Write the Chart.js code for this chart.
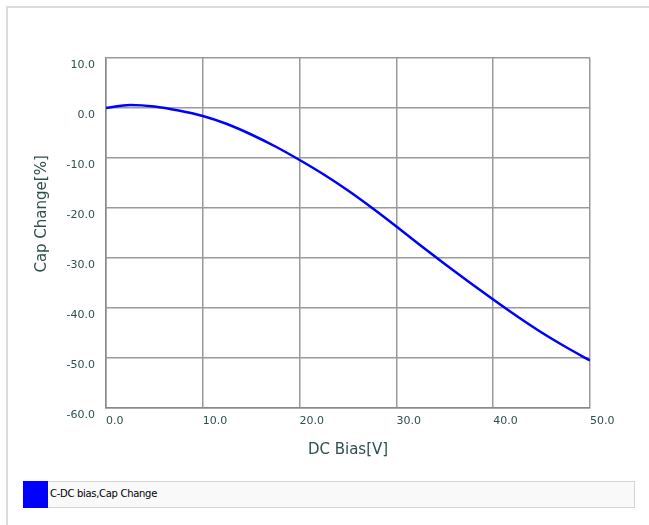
<!DOCTYPE html>
<html>
<head>
<meta charset="utf-8">
<script src="https://cdn.jsdelivr.net/npm/chart.js@4.4.1/dist/chart.umd.min.js"></script>
<style>
  html, body { margin: 0; padding: 0; background: #fff; }
  body { width: 649px; height: 525px; position: relative; overflow: hidden; }
  .frame { position: absolute; left: 6px; top: 6px; right: 0; bottom: 0;
           border-left: 2px solid #dcdcdc; border-top: 2px solid #dcdcdc; }
  #chart { position: absolute; left: 0; top: 0; }
  .legend { position: absolute; left: 23px; top: 481px; width: 611px; height: 25px;
            background: #f9f9f9; border: 1px solid #d4d4d4; border-left: none;
            font: 10px "DejaVu Sans", sans-serif; color: #000; }
  .legend .sw { position: absolute; left: 0; top: -1px; width: 25px; height: 27px; background: #0000ff; }
  .legend .tx { position: absolute; left: 27px; top: 6px; letter-spacing: -0.3px; }
</style>
</head>
<body>
<div class="frame"></div>
<canvas id="chart" width="649" height="470"></canvas>
<div class="legend"><span class="sw"></span><span class="tx" id="legText"></span></div>
<script>
  /* ── Data ────────────────────────────────────────────────── */
  const SERIES_NAME = 'C-DC bias,Cap Change';
  const biasV   = [0, 2.5, 5, 7.5, 10, 12.5, 15, 17.5, 20, 22.5, 25, 27.5, 30, 32.5, 35, 37.5, 40, 42.5, 45, 47.5, 50];
  const capPct  = [0.0, 0.6, 0.3, -0.5, -1.6, -3.2, -5.3, -7.7, -10.4, -13.3, -16.5, -20.0, -23.7, -27.5, -31.2, -34.8, -38.3, -41.7, -44.9, -47.8, -50.5];
  const xTicks  = [0, 10, 20, 30, 40, 50];
  const yTicks  = [10, 0, -10, -20, -30, -40, -50, -60];

  const BLUE = '#0000ff';
  const GRID = '#9a9a9a';
  const TXT  = '#2f4f4f';

  document.getElementById('legText').textContent = SERIES_NAME;

  const points = biasV.map((v, i) => ({ x: v, y: capPct[i] }));

  new Chart(document.getElementById('chart'), {
    type: 'line',
    data: {
      datasets: [{
        label: SERIES_NAME,
        data: points,
        borderColor: BLUE,
        borderWidth: 2.5,
        pointRadius: 0,
        cubicInterpolationMode: 'monotone',
        fill: false,
      }],
    },
    options: {
      responsive: false, animation: false, devicePixelRatio: 1,
      layout: { padding: { left: 0, right: 59, top: 58, bottom: 0 } },
      plugins: { legend: { display: false }, tooltip: { enabled: false } },
      scales: {
        x: {
          type: 'linear', min: xTicks[0], max: xTicks[xTicks.length - 1],
          afterBuildTicks: s => { s.ticks = xTicks.map(v => ({ value: v })); },
          afterFit: s => { s.height = 62; },
          grid: { color: GRID, lineWidth: 1.5, drawTicks: false },
          border: { color: '#8a8a8a', width: 1.5 },
          ticks: { color: TXT, font: { family: 'DejaVu Sans', size: 11 }, padding: 7, align: 'start',
                   callback: v => Number(v).toFixed(1) },
          title: { display: true, text: 'DC Bias[V]', color: TXT,
                   font: { family: 'DejaVu Sans', size: 15 }, padding: { top: 11, bottom: 11 } },
        },
        y: {
          min: yTicks[yTicks.length - 1], max: yTicks[0],
          afterBuildTicks: s => { s.ticks = yTicks.slice().reverse().map(v => ({ value: v })); },
          afterFit: s => { s.width = 106; },
          grid: { color: GRID, lineWidth: 1.5, drawTicks: false },
          border: { color: '#8a8a8a', width: 1.5 },
          ticks: { color: TXT, font: { family: 'DejaVu Sans', size: 11 }, padding: 11, labelOffset: 7,
                   callback: v => Number(v).toFixed(1) },
          title: { display: true, text: '\u00a0\u00a0\u00a0\u00a0\u00a0\u00a0\u00a0\u00a0Cap Change[%]', color: TXT,
                   font: { family: 'DejaVu Sans', size: 15 }, padding: { top: 33, bottom: 0 } },
        },
      },
    },
  });
</script>
</body>
</html>
